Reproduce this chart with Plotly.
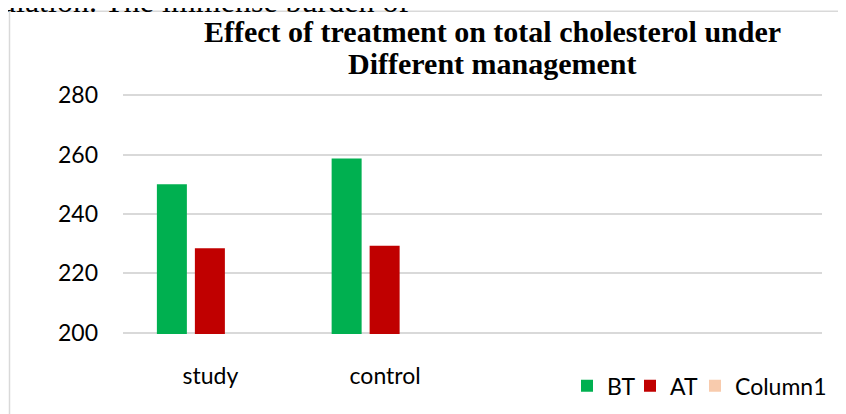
import plotly.graph_objects as go

# ---- data ----
categories = ["study", "control", "", ""]
series_names = ["BT", "AT", "Column1"]
bt_values = [250.0, 258.7]
at_values = [228.5, 229.3]
col1_values = [None, None]
y_ticks = [200, 220, 240, 260, 280]
title_lines = ["Effect of treatment on total cholesterol under", "Different management"]
top_text = "ulation. The immense burden of"

# page offset (the html body adds an 8px margin)
OFF = 8
W, H = 846, 414
ML, MR, MT, MB = 115, 32, 85.8, 87.8
PW, PH = W - ML - MR, H - MT - MB


def px(x):
    return (x - OFF - ML) / PW


def py(y):
    return (H - MB - (y - OFF)) / PH


xpos = list(range(len(categories)))
bw = 30 / 174.75
colors = ["#00B050", "#C00000", "#F8CBAD"]
offsets = [-53.5 / 174.75, -15.5 / 174.75, 22.5 / 174.75]
legend_x = [567, 630, 695]
values = [bt_values, at_values, col1_values]

fig = go.Figure()
for i, (name, vals) in enumerate(zip(series_names, values)):
    lid = "legend" if i == 0 else "legend%d" % (i + 1)
    fig.add_trace(go.Bar(name=name, x=xpos[:2], y=vals, legend=lid,
                         marker=dict(color=colors[i], line=dict(width=0)),
                         width=bw, offset=offsets[i]))

tickfont = dict(family="Lato", size=23, color="#000000")
legend_common = dict(orientation="h", y=py(386), xanchor="left", yanchor="middle",
                     font=dict(family="Lato", size=23, color="#000000"),
                     bgcolor="rgba(0,0,0,0)", itemwidth=30)

fig.update_layout(
    width=W, height=H,
    margin=dict(l=ML, r=MR, t=MT, b=MB, pad=0, autoexpand=False),
    paper_bgcolor="white", plot_bgcolor="white",
    barmode="overlay",
    showlegend=True,
    legend=dict(x=px(legend_x[0]), **legend_common),
    legend2=dict(x=px(legend_x[1]), **legend_common),
    legend3=dict(x=px(legend_x[2]), **legend_common),
    xaxis=dict(range=[-0.5, len(categories) - 0.5], tickmode="array",
               tickvals=xpos, ticktext=categories, showgrid=False,
               zeroline=False, showline=False, ticks="", tickfont=tickfont,
               ticklabelstandoff=26, fixedrange=True),
    yaxis=dict(range=[y_ticks[0] - 0.4, y_ticks[-1] + 0.4], tickmode="array", tickvals=y_ticks,
               showgrid=True, gridcolor="#D9D9D9", gridwidth=1.5,
               zeroline=False, showline=False, ticks="", tickfont=tickfont,
               ticklabelstandoff=24, fixedrange=True),
)

# title lines
for i, line in enumerate(title_lines):
    fig.add_annotation(text="<b>%s</b>" % line, xref="paper", yref="paper",
                       x=px(492), y=py(31 + 32.5 * i), xanchor="center", yanchor="middle",
                       showarrow=False,
                       font=dict(family="Liberation Serif", size=30, color="#000000"))

# partially visible document text above the chart
fig.add_annotation(text=top_text, xref="paper", yref="paper",
                   x=px(-2), y=py(21), xanchor="left", yanchor="bottom",
                   showarrow=False, font=dict(family="Liberation Serif", size=32, color="#000000"))

# chart frame
fig.add_shape(type="rect", xref="paper", yref="paper",
              x0=px(9.5), x1=px(W + 20), y0=py(H + 20), y1=py(11),
              line=dict(color="#D9D9D9", width=1.5), fillcolor="rgba(0,0,0,0)", layer="below")

fig.write_html("out.html")
